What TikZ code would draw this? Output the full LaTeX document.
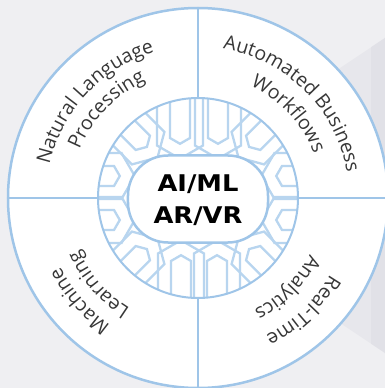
\documentclass[tikz,border=0pt]{standalone}
\usepackage{fontspec}
\setmainfont{DejaVu Sans}
\newfontfamily\arcfont{Open Sans}
\newfontfamily\hubfont{DejaVu Sans}[FakeStretch=1.12]
\usetikzlibrary{decorations.text}
\definecolor{bgcol}{RGB}{239,239,242}
\definecolor{panelcol}{RGB}{231,231,236}
\definecolor{panelband}{RGB}{225,225,231}
\definecolor{ringblue}{RGB}{159,197,232}
\definecolor{patblue}{RGB}{184,213,239}
\definecolor{labelgray}{RGB}{55,55,55}
\newcommand\arclabel[3]{%
  \path[decorate,decoration={text along path,
    text={|\arcfont\fontsize{19.5}{22}\selectfont|#3},
    text color=labelgray,text align=center}]
    (#2+55:#1) arc[start angle=#2+55,end angle=#2-55,radius=#1];}
\begin{document}
\begin{tikzpicture}[x=1pt,y=1pt,
  ringline/.style={draw=ringblue,line width=2.5pt},
  patline/.style={draw=patblue,line width=2.3pt,line join=miter}]
\useasboundingbox (-198,-190) rectangle (187,198);
\fill[bgcol] (-198,-190) rectangle (187,198);
% side panel
\fill[panelcol] (102,103.3) -- (187,160) -- (187,-155) -- (102,-98) -- cycle;
\fill[panelband] (173,150.7) -- (187,160) -- (187,-155) -- (173,-145.6) -- cycle;
% main disc
\path[fill=white,ringline] (0,0) circle (190);
% dividers
\foreach \a in {0,90,180,270} \draw[ringline] (\a:100) -- (\a:190);
% ring with pattern
\begin{scope}
  \clip (0,0) circle (100);
  \fill[white] (0,0) circle (100);
  \foreach \ang/\off/\R in {90/-20/60, 90/18/60, 270/-17/63, 270/19/63,
                            0/-22/84, 0/22/84, 180/-22/84, 180/22/84,
                            45/0/78, 135/0/78, 225/0/78, 315/0/78} {
    \begin{scope}[rotate=\ang]
      \foreach \w in {10,23} {
        \pgfmathsetmacro\xs{\R-0.577*(\w-10)}
        \pgfmathsetmacro\xt{\xs-0.577*\w}
        \draw[patline] (130,\off+\w) -- (\xs,\off+\w) -- (\xt,\off)
          -- (\xs,\off-\w) -- (130,\off-\w);
      }
    \end{scope}
  }
\end{scope}
\draw[ringblue,line width=2pt] (0,0) circle (100);
% hub
\node (hub) [fill=white,draw=ringblue,line width=2.5pt,rounded corners=40pt,
  minimum width=140pt,minimum height=87pt,inner sep=0pt] at (0,-1) {};
\node (hubtext) [align=center,font=\hubfont\bfseries\fontsize{23}{32}\selectfont,
  text=black] at (0,-2) {AI/ML\\AR/VR};
% curved labels
\arclabel{152}{137}{Natural Language}
\arclabel{128}{136}{Processing}
\arclabel{151}{45}{Automated Business}
\arclabel{124}{43}{Workflows}
\arclabel{154}{221}{Machine}
\arclabel{130}{221}{Learning}
\arclabel{153}{313}{Real-Time}
\arclabel{125}{315}{Analytics}
\end{tikzpicture}
\end{document}
